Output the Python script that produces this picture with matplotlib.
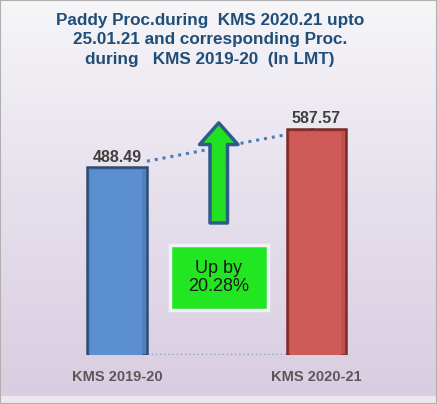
import numpy as np
import matplotlib.pyplot as plt
from matplotlib.patches import Rectangle, FancyArrowPatch

# dati
categorie = ['KMS 2019-20', 'KMS 2020-21']
valori = [488.49, 587.57]
etichette = ['488.49', '587.57']
colori = ['#4f81bd', '#c0504d']
bordi = ['#2c4d75', '#7a2a28']
luci = ['#5b8fd0', '#d05a57']
crescita = '20.28%'
titolo = 'Paddy Proc.during  KMS 2020.21 upto\n25.01.21 and corresponding Proc.\nduring   KMS 2019-20  (In LMT)'

plt.rcParams['font.family'] = ['Liberation Sans', 'DejaVu Sans']

fig = plt.figure(figsize=(4.37, 4.04), dpi=100)

# sfondo sfumato
sfondo = fig.add_axes([0, 0, 1, 1], zorder=0)
grad = np.linspace(0, 1, 256).reshape(-1, 1)
top = np.array([0.965, 0.965, 0.975])
bot = np.array([0.85, 0.80, 0.88])
img = top + (bot - top) * grad[:, :, None] ** 0.9
sfondo.imshow(img, aspect='auto', extent=[0, 1, 0, 1], origin='upper')
sfondo.add_patch(Rectangle((0, 0), 1, 0.02, color='#ece8ef', zorder=2))
sfondo.add_patch(Rectangle((0, 0), 1, 1, fill=False, edgecolor='#b0b0b0', lw=1.5, zorder=3))
sfondo.set_xlim(0, 1)
sfondo.set_ylim(0, 1)
sfondo.axis('off')

# assi dei dati
ax = fig.add_axes([0.0395, 0.1213, 0.913, 0.667], zorder=1)
ax.set_facecolor('none')
x = np.arange(len(categorie))
ax.bar(x, valori, width=0.30, color=colori, edgecolor=bordi, linewidth=1.8, zorder=3)
ax.bar(x - 0.005, [v - 8 for v in valori], width=0.26, color=luci, zorder=4)
ax.set_xlim(-0.5, 1.5)
ax.set_ylim(0, 700)
ax.axis('off')

for xi, v, t in zip(x, valori, etichette):
    ax.text(xi, v + 6, t, ha='center', va='bottom', fontsize=11.5, fontweight='bold',
            color='#404040', zorder=6)
    ax.text(xi, -58, categorie[xi], ha='center', va='center', fontsize=10.5,
            fontweight='bold', color='#595959', zorder=6)

# linea tratteggiata tra le cime delle barre
xs = np.array([0.15, 1.0])
ys = np.interp(xs, x, valori)
ax.plot(xs, ys, linestyle=(0, (1, 1.6)), color='#4a7ebb', lw=2.2, zorder=2)
ax.plot([0.15, 0.85], [2, 2], linestyle=(0, (1, 2)), color='#8aa0c0', lw=1, zorder=2)

# freccia verde
freccia = FancyArrowPatch((0.51, 343), (0.51, 603),
                          arrowstyle='simple,tail_width=1.05,head_width=2.3,head_length=1.3',
                          mutation_scale=12, facecolor='#22e022', edgecolor='#2f5b8a',
                          lw=2.5, shrinkA=0, shrinkB=0, zorder=5)
ax.add_patch(freccia)

# riquadro della crescita
ax.add_patch(Rectangle((0.266, 117), 0.491, 169, facecolor='#22e622',
                       edgecolor='#eef2f6', lw=2.5, zorder=5))
ax.text(0.511, 201, 'Up by\n' + crescita, ha='center', va='center', fontsize=13,
        color='#1a1a1a', linespacing=1.1, zorder=6)

fig.text(0.48, 0.968, titolo, ha='center', va='top', fontsize=12.3, fontweight='bold',
         color='#1f4e79', linespacing=1.38)

fig.savefig('out.png', dpi=100)
